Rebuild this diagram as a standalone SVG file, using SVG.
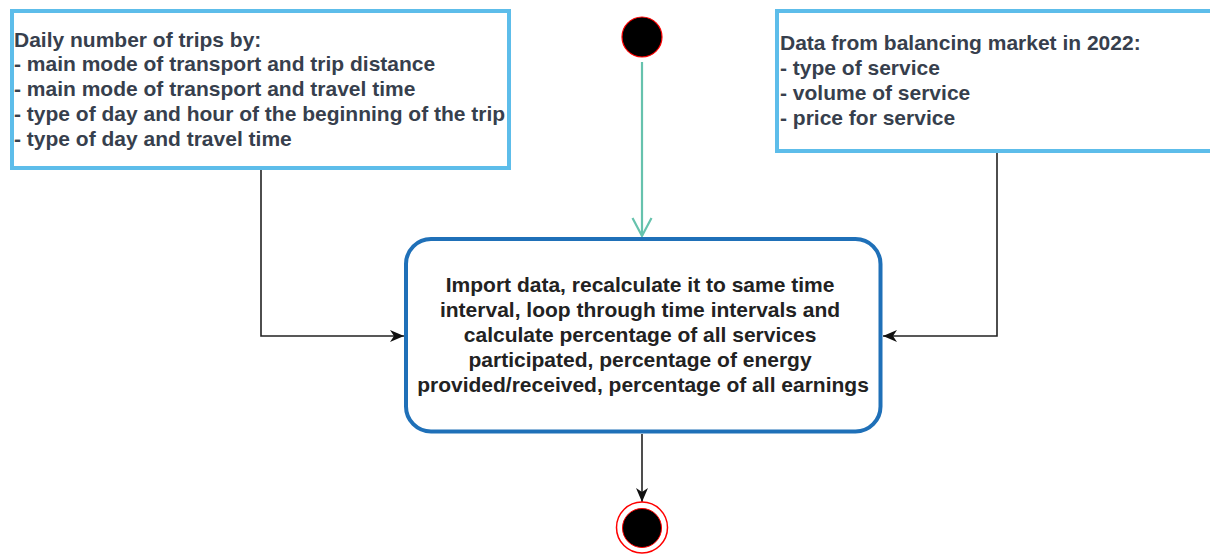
<svg xmlns="http://www.w3.org/2000/svg" width="1210" height="554" viewBox="0 0 1210 554">
  <style>
    .note { fill: #ffffff; stroke: #5dbdea; stroke-width: 4; }
    .proc { fill: #ffffff; stroke: #1f70b8; stroke-width: 4; }
    .txt { font-family: "Liberation Sans", Arial, sans-serif; font-size: 21px; font-weight: bold; }
    .side { fill: #373f4d; }
    .mid { fill: #222222; text-anchor: middle; }
    .edge { fill: none; stroke: #222222; stroke-width: 1.6; }
    .flow { fill: none; stroke: #66c2ad; stroke-width: 2.2; }
  </style>
  <defs>
    <marker id="classic" markerUnits="userSpaceOnUse" viewBox="0 0 14 12" markerWidth="14" markerHeight="12" refX="14" refY="6" orient="auto">
      <path d="M0,0 L14,6 L0,12 L4,6 Z" fill="#111111"/>
    </marker>
  </defs>

  <rect width="1210" height="554" fill="#ffffff"/>

  <!-- connectors -->
  <g id="connectors">
    <line class="flow" x1="642" y1="62" x2="642" y2="236"/>
    <polyline class="flow" points="632.5,218 642,236 651.5,218" stroke-linejoin="miter"/>
    <polyline class="edge" points="261,170 261,336 404,336" marker-end="url(#classic)"/>
    <polyline class="edge" points="997,153 997,336 883,336" marker-end="url(#classic)"/>
    <line class="edge" x1="642" y1="434" x2="642" y2="502" marker-end="url(#classic)"/>
  </g>

  <!-- input: mobility data -->
  <g id="trips">
    <rect class="note" x="12" y="11" width="497" height="157"/>
    <text class="txt side" x="14">
      <tspan x="14" y="46.5">Daily number of trips by:</tspan>
      <tspan x="14" y="71">- main mode of transport and trip distance</tspan>
      <tspan x="14" y="96">- main mode of transport and travel time</tspan>
      <tspan x="14" y="121">- type of day and hour of the beginning of the trip</tspan>
      <tspan x="14" y="146">- type of day and travel time</tspan>
    </text>
  </g>

  <!-- input: balancing market data -->
  <g id="market">
    <rect class="note" x="777" y="11" width="440" height="140"/>
    <text class="txt side">
      <tspan x="780" y="50">Data from balancing market in 2022:</tspan>
      <tspan x="780" y="75">- type of service</tspan>
      <tspan x="780" y="100">- volume of service</tspan>
      <tspan x="780" y="125">- price for service</tspan>
    </text>
  </g>

  <!-- start state -->
  <g id="start">
    <circle cx="642" cy="37" r="20" fill="#000000" stroke="#ff0000" stroke-width="1.2"/>
  </g>

  <!-- processing step -->
  <g id="process">
    <rect class="proc" x="406" y="239" width="474.5" height="192.5" rx="25" ry="25"/>
    <text class="txt mid">
      <tspan x="643" y="292">Import data, recalculate it to same time</tspan>
      <tspan x="643" y="317">interval, loop through time intervals and</tspan>
      <tspan x="643" y="342">calculate percentage of all services</tspan>
      <tspan x="643" y="367">participated, percentage of energy</tspan>
      <tspan x="643" y="392">provided/received, percentage of all earnings</tspan>
    </text>
  </g>

  <!-- end state -->
  <g id="end">
    <circle cx="642" cy="527.5" r="25.5" fill="#ffffff" stroke="#ff0000" stroke-width="1.5"/>
    <circle cx="642" cy="528" r="19.5" fill="#000000" stroke="#ff0000" stroke-width="1"/>
  </g>
</svg>
